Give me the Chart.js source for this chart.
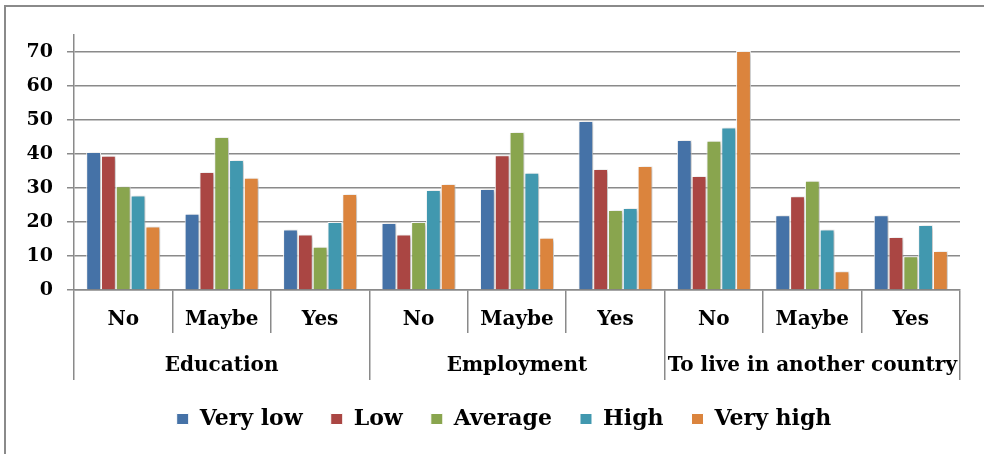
<!DOCTYPE html>
<html>
<head>
<meta charset="utf-8">
<script src="https://cdn.jsdelivr.net/npm/chart.js@4.4.1/dist/chart.umd.min.js"></script>
<style>
  html, body { margin: 0; padding: 0; background: #fff; }
  #wrap { position: relative; width: 984px; height: 454px; overflow: hidden; }
  #frame { position: absolute; left: 4px; top: 5px; width: 1100px; height: 600px; border: 2px solid #8a8a8a; }
  canvas { position: absolute; left: 0; top: 0; }
</style>
</head>
<body>
<div id="wrap">
  <div id="frame"></div>
  <canvas id="motivChart" width="984" height="454"></canvas>
</div>
<script>
// categories
const answers = ['No', 'Maybe', 'Yes', 'No', 'Maybe', 'Yes', 'No', 'Maybe', 'Yes'];
const groups = ['Education', 'Employment', 'To live in another country'];
const yTicks = [0, 10, 20, 30, 40, 50, 60, 70];

// series values (%)
const veryLow  = [40.6, 22.4, 17.8, 19.7, 29.7, 49.7, 44.1, 22.0, 22.0];
const low      = [39.5, 34.7, 16.3, 16.3, 39.6, 35.6, 33.5, 27.6, 15.6];
const average  = [30.5, 45.0, 12.7, 20.0, 46.5, 23.5, 43.9, 32.1, 9.9];
const high     = [27.8, 38.2, 20.0, 29.4, 34.5, 24.1, 47.8, 17.8, 19.1];
const veryHigh = [18.7, 33.0, 28.2, 31.2, 15.4, 36.5, 70.3, 5.5, 11.5];

const gridGray = '#8a8a8a';
const serif = "'DejaVu Serif', 'Liberation Serif', serif";

function bar(label, data, color) {
    return {
        label: label,
        data: data,
        backgroundColor: color,
        borderColor: '#ffffff',
        borderWidth: 1,
        categoryPercentage: 0.752,
        barPercentage: 1
    };
}

// soft drop shadow behind bars, like the office chart
const barShadow = {
    id: 'barShadow',
    beforeDatasetsDraw(chart) {
        const ctx = chart.ctx;
        ctx.save();
        ctx.shadowColor = 'rgba(0,0,0,0.28)';
        ctx.shadowBlur = 4;
        ctx.shadowOffsetX = 2;
        ctx.shadowOffsetY = 1;
    },
    afterDatasetsDraw(chart) {
        chart.ctx.restore();
    }
};

// the legend sits a little right of the canvas centre in the original
const legendShift = {
    id: 'legendShift',
    afterLayout(chart) {
        chart.legend.left += 24;
        chart.legend.right += 24;
    }
};

new Chart(document.getElementById('motivChart'), {
    type: 'bar',
    data: {
        labels: answers,
        datasets: [
            bar('Very low', veryLow, '#4572a7'),
            bar('Low', low, '#aa4643'),
            bar('Average', average, '#89a54e'),
            bar('High', high, '#4198af'),
            bar('Very high', veryHigh, '#db843d')
        ]
    },
    options: {
        responsive: false,
        animation: false,
        layout: { padding: { left: 0, right: 24, top: 35, bottom: 14 } },
        scales: {
            y: {
                min: 0,
                max: 75,
                afterFit: s => { s.width = 74; },
                afterBuildTicks: s => { s.ticks = yTicks.map(v => ({ value: v })); },
                ticks: {
                    padding: 14,
                    color: '#000',
                    font: { family: serif, size: 19, weight: 'bold' }
                },
                grid: { color: gridGray, lineWidth: 1.5, tickLength: 7 },
                border: { color: gridGray, width: 1.5 }
            },
            x: {
                weight: 0,
                afterFit: s => { s.height = 43; },
                ticks: {
                    padding: -25,
                    color: '#000',
                    autoSkip: false,
                    maxRotation: 0,
                    font: { family: serif, size: 20, weight: 'bold' }
                },
                grid: { drawOnChartArea: false, color: gridGray, lineWidth: 1.5, tickLength: 43 },
                border: { color: gridGray, width: 1.5 }
            },
            x2: {
                type: 'category',
                axis: 'x',
                position: 'bottom',
                weight: 1,
                labels: groups,
                offset: true,
                afterFit: s => { s.height = 47; },
                ticks: {
                    padding: -26,
                    color: '#000',
                    autoSkip: false,
                    maxRotation: 0,
                    font: { family: serif, size: 20, weight: 'bold' }
                },
                grid: { offset: true, drawOnChartArea: false, color: gridGray, lineWidth: 1.5, tickLength: 47 },
                border: { display: false }
            }
        },
        plugins: {
            legend: {
                position: 'bottom',
                labels: {
                    boxWidth: 12,
                    boxHeight: 11,
                    padding: 28,
                    color: '#000',
                    font: { family: serif, size: 22, weight: 'bold' }
                }
            },
            tooltip: { enabled: false }
        }
    },
    plugins: [barShadow, legendShift]
});
</script>
</body>
</html>
